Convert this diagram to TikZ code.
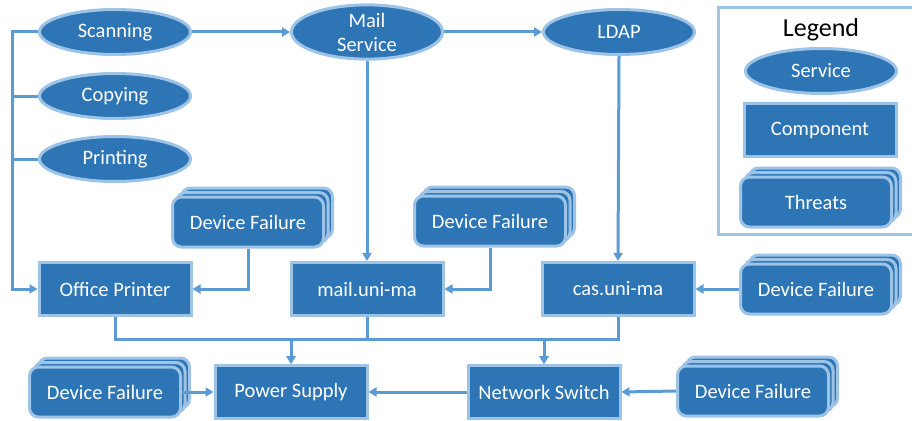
\documentclass[tikz,border=0pt]{standalone}
\usepackage{fontspec}
\setmainfont{Carlito}
\usetikzlibrary{shapes.geometric,arrows.meta,shadows}
\definecolor{fillblue}{RGB}{46,117,182}
\definecolor{edgeblue}{RGB}{157,195,230}
\definecolor{connblue}{RGB}{91,155,213}
\tikzset{
  base/.style={fill=fillblue,draw=edgeblue,line width=3pt,text=white,inner sep=0pt,
    font=\fontsize{20.5}{24}\selectfont,align=center},
  svc/.style={base,ellipse,minimum width=151pt,minimum height=45pt},
  comp/.style={base,rectangle,minimum width=152pt,minimum height=53pt},
  threat/.style={base,rectangle,rounded corners=9pt,minimum width=151pt,minimum height=50pt,
    double copy shadow={shadow xshift=4.5pt,shadow yshift=4.5pt}},
  conn/.style={draw=connblue,line width=3pt},
  arr/.style={conn,-{Triangle[length=8pt,width=9pt]}},
}
\begin{document}
\begin{tikzpicture}[x=1pt,y=-1pt]
\useasboundingbox (0,0) rectangle (912,420);
% legend
\draw[draw=edgeblue,line width=3pt] (718,8) rectangle (915,234);
\node[font=\fontsize{26}{30}\selectfont] (legtitle) at (821,30) {Legend};
\node[svc] (lsvc) at (821,71) {Service};
\node[comp] (lcomp) at (820,130) {Component};
\node[threat] (lthr) at (816,202) {Threats};
% services
\node[svc] (scan) at (115,32) {Scanning};
\node[svc] (copy) at (115,96) {Copying};
\node[svc] (print) at (115,159) {Printing};
\node[svc] (mailsvc) at (367,32) {Mail\\Service};
\node[svc] (ldap) at (619,32) {LDAP};
% components
\node[comp] (op) at (115,289) {Office Printer};
\node[comp] (mail) at (367,289) {mail.uni-ma};
\node[comp] (cas) at (618,289) {cas.uni-ma};
\node[comp] (ps) at (291,392) {Power Supply};
\node[comp] (ns) at (544,392) {Network Switch};
% threats
\node[threat] (df1) at (248,222) {Device Failure};
\node[threat] (df2) at (490,221) {Device Failure};
\node[threat] (df3) at (816,289) {Device Failure};
\node[threat] (df4) at (105,392) {Device Failure};
\node[threat] (df5) at (753,391) {Device Failure};
% coordinates
\coordinate (bus) at (12,32);
\coordinate (j1) at (291,339);
\coordinate (j2) at (544,339);
% connectors
\draw[arr] (scan.west) -- (bus) |- (op.west);
\draw[conn] (copy.west) -- (copy.west -| bus);
\draw[conn] (print.west) -- (print.west -| bus);
\draw[arr] (scan.east) -- (mailsvc.west);
\draw[arr] (mailsvc.east) -- (ldap.west);
\draw[arr] (mailsvc.south) -- (mail.north);
\draw[arr] (ldap.south) -- (cas.north);
\draw[arr] (df1.south) |- (op.east);
\draw[arr] (df2.south) |- (mail.east);
\draw[arr] (df3.west) -- (cas.east);
\draw[arr] (op.south) |- (j1) -- (ps.north);
\draw[arr] (mail.south) |- (j1) -- (ps.north);
\draw[arr] (mail.south) |- (j2) -- (ns.north);
\draw[arr] (cas.south) |- (j2) -- (ns.north);
\draw[arr] (ns.west) -- (ps.east);
\draw[arr] (df4.east) -- (ps.west);
\draw[arr] (df5.west) -- (ns.east);
\end{tikzpicture}
\end{document}
